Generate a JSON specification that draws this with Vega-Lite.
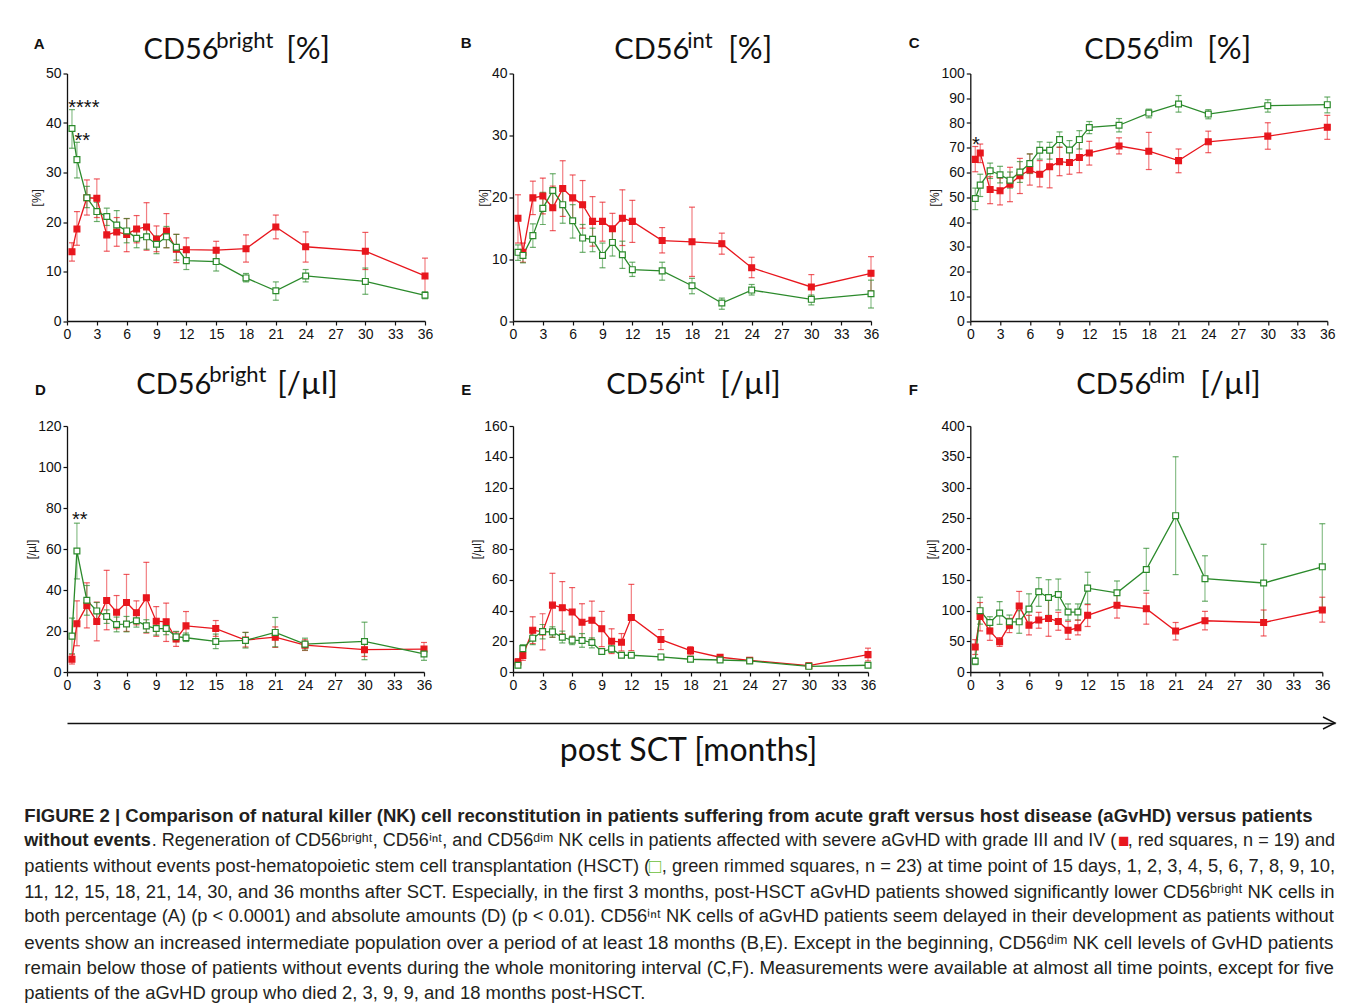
{
"$schema": "https://vega.github.io/schema/vega-lite/v6.json",
"background": "white",
"padding": {"left": 24, "top": 28.5, "right": 15, "bottom": 4},
"config": {
  "view": {"stroke": null},
  "font": "Liberation Sans",
  "axis": {"grid": false, "labelOverlap": false, "domainColor": "#111", "domainWidth": 1.3, "tickColor": "#111", "tickWidth": 1.2, "tickSize": 4, "labelFont": "Liberation Sans", "labelFontSize": 14, "labelColor": "#111", "labelPadding": 2, "titleFont": "Liberation Sans", "titleFontSize": 12, "titleFontWeight": "normal", "titleColor": "#222", "titlePadding": 2},
  "text": {"color": "#111"}
},
"datasets": {
"nk": [
{"panel":"A","group":"aGvHD","month":0.5,"value":14.0,"low":12.1,"high":15.8},
{"panel":"A","group":"aGvHD","month":1,"value":18.6,"low":15.3,"high":22.1},
{"panel":"A","group":"aGvHD","month":2,"value":24.9,"low":21.4,"high":28.5},
{"panel":"A","group":"aGvHD","month":3,"value":24.8,"low":20.9,"high":28.7},
{"panel":"A","group":"aGvHD","month":4,"value":17.4,"low":14.1,"high":20.6},
{"panel":"A","group":"aGvHD","month":5,"value":18.0,"low":15.1,"high":20.9},
{"panel":"A","group":"aGvHD","month":6,"value":17.5,"low":14.0,"high":20.7},
{"panel":"A","group":"aGvHD","month":7,"value":18.6,"low":15.8,"high":21.3},
{"panel":"A","group":"aGvHD","month":8,"value":19.0,"low":14.3,"high":23.9},
{"panel":"A","group":"aGvHD","month":9,"value":16.5,"low":14.0,"high":19.2},
{"panel":"A","group":"aGvHD","month":10,"value":18.2,"low":14.8,"high":21.7},
{"panel":"A","group":"aGvHD","month":11,"value":14.5,"low":11.8,"high":17.5},
{"panel":"A","group":"aGvHD","month":12,"value":14.4,"low":12.1,"high":16.8},
{"panel":"A","group":"aGvHD","month":15,"value":14.3,"low":12.3,"high":16.1},
{"panel":"A","group":"aGvHD","month":18,"value":14.6,"low":11.9,"high":17.4},
{"panel":"A","group":"aGvHD","month":21,"value":19.0,"low":16.6,"high":21.4},
{"panel":"A","group":"aGvHD","month":24,"value":15.0,"low":11.9,"high":18.0},
{"panel":"A","group":"aGvHD","month":30,"value":14.1,"low":10.4,"high":17.9},
{"panel":"A","group":"aGvHD","month":36,"value":9.1,"low":5.4,"high":12.7},
{"panel":"A","group":"no events","month":0.5,"value":38.9,"low":34.9,"high":42.7},
{"panel":"A","group":"no events","month":1,"value":32.6,"low":28.9,"high":36.1},
{"panel":"A","group":"no events","month":2,"value":24.9,"low":22.9,"high":27.2},
{"panel":"A","group":"no events","month":3,"value":22.1,"low":20.1,"high":24.0},
{"panel":"A","group":"no events","month":4,"value":21.1,"low":19.3,"high":22.8},
{"panel":"A","group":"no events","month":5,"value":19.4,"low":17.5,"high":22.3},
{"panel":"A","group":"no events","month":6,"value":18.2,"low":15.8,"high":20.7},
{"panel":"A","group":"no events","month":7,"value":16.7,"low":14.8,"high":18.4},
{"panel":"A","group":"no events","month":8,"value":17.0,"low":14.5,"high":19.5},
{"panel":"A","group":"no events","month":9,"value":15.5,"low":13.6,"high":17.2},
{"panel":"A","group":"no events","month":10,"value":17.0,"low":14.8,"high":19.1},
{"panel":"A","group":"no events","month":11,"value":14.9,"low":12.3,"high":17.5},
{"panel":"A","group":"no events","month":12,"value":12.2,"low":10.4,"high":14.0},
{"panel":"A","group":"no events","month":15,"value":12.0,"low":10.1,"high":14.1},
{"panel":"A","group":"no events","month":18,"value":8.7,"low":7.9,"high":9.6},
{"panel":"A","group":"no events","month":21,"value":6.1,"low":4.2,"high":7.9},
{"panel":"A","group":"no events","month":24,"value":9.1,"low":7.9,"high":10.4},
{"panel":"A","group":"no events","month":30,"value":8.0,"low":5.4,"high":10.7},
{"panel":"A","group":"no events","month":36,"value":5.2,"low":4.5,"high":5.9},
{"panel":"B","group":"aGvHD","month":0.5,"value":16.6,"low":12.6,"high":20.4},
{"panel":"B","group":"aGvHD","month":1,"value":11.1,"low":9.5,"high":12.6},
{"panel":"B","group":"aGvHD","month":2,"value":19.9,"low":17.2,"high":22.6},
{"panel":"B","group":"aGvHD","month":3,"value":20.2,"low":17.3,"high":23.1},
{"panel":"B","group":"aGvHD","month":4,"value":18.3,"low":14.6,"high":21.8},
{"panel":"B","group":"aGvHD","month":5,"value":21.4,"low":16.9,"high":25.9},
{"panel":"B","group":"aGvHD","month":6,"value":19.9,"low":16.2,"high":23.6},
{"panel":"B","group":"aGvHD","month":7,"value":18.8,"low":15.0,"high":22.7},
{"panel":"B","group":"aGvHD","month":8,"value":16.1,"low":12.1,"high":20.1},
{"panel":"B","group":"aGvHD","month":9,"value":16.1,"low":12.9,"high":19.2},
{"panel":"B","group":"aGvHD","month":10,"value":14.9,"low":12.4,"high":17.4},
{"panel":"B","group":"aGvHD","month":11,"value":16.6,"low":12.2,"high":21.2},
{"panel":"B","group":"aGvHD","month":12,"value":16.1,"low":12.7,"high":19.5},
{"panel":"B","group":"aGvHD","month":15,"value":13.0,"low":11.0,"high":15.1},
{"panel":"B","group":"aGvHD","month":18,"value":12.8,"low":7.2,"high":18.4},
{"panel":"B","group":"aGvHD","month":21,"value":12.5,"low":10.8,"high":14.2},
{"panel":"B","group":"aGvHD","month":24,"value":8.6,"low":7.0,"high":10.3},
{"panel":"B","group":"aGvHD","month":30,"value":5.5,"low":3.4,"high":7.5},
{"panel":"B","group":"aGvHD","month":36,"value":7.7,"low":4.9,"high":10.4},
{"panel":"B","group":"no events","month":0.5,"value":11.1,"low":9.8,"high":12.3},
{"panel":"B","group":"no events","month":1,"value":10.6,"low":9.4,"high":11.5},
{"panel":"B","group":"no events","month":2,"value":13.8,"low":11.9,"high":15.7},
{"panel":"B","group":"no events","month":3,"value":18.2,"low":15.6,"high":20.8},
{"panel":"B","group":"no events","month":4,"value":21.1,"low":18.2,"high":23.8},
{"panel":"B","group":"no events","month":5,"value":18.8,"low":15.8,"high":21.8},
{"panel":"B","group":"no events","month":6,"value":16.2,"low":13.4,"high":18.8},
{"panel":"B","group":"no events","month":7,"value":13.4,"low":11.1,"high":15.6},
{"panel":"B","group":"no events","month":8,"value":13.2,"low":11.2,"high":15.0},
{"panel":"B","group":"no events","month":9,"value":10.6,"low":8.6,"high":12.6},
{"panel":"B","group":"no events","month":10,"value":12.7,"low":10.5,"high":15.0},
{"panel":"B","group":"no events","month":11,"value":10.7,"low":8.5,"high":12.9},
{"panel":"B","group":"no events","month":12,"value":8.3,"low":7.2,"high":9.5},
{"panel":"B","group":"no events","month":15,"value":8.1,"low":6.6,"high":9.5},
{"panel":"B","group":"no events","month":18,"value":5.7,"low":4.4,"high":6.9},
{"panel":"B","group":"no events","month":21,"value":2.9,"low":1.9,"high":3.7},
{"panel":"B","group":"no events","month":24,"value":5.0,"low":4.2,"high":5.9},
{"panel":"B","group":"no events","month":30,"value":3.5,"low":2.6,"high":4.2},
{"panel":"B","group":"no events","month":36,"value":4.4,"low":2.1,"high":6.6},
{"panel":"C","group":"aGvHD","month":0.5,"value":65.3,"low":60.3,"high":70.5},
{"panel":"C","group":"aGvHD","month":1,"value":67.9,"low":64.0,"high":71.5},
{"panel":"C","group":"aGvHD","month":2,"value":53.1,"low":47.4,"high":58.3},
{"panel":"C","group":"aGvHD","month":3,"value":52.6,"low":46.9,"high":57.7},
{"panel":"C","group":"aGvHD","month":4,"value":55.3,"low":48.2,"high":62.1},
{"panel":"C","group":"aGvHD","month":5,"value":58.7,"low":51.5,"high":65.7},
{"panel":"C","group":"aGvHD","month":6,"value":61.0,"low":54.9,"high":67.5},
{"panel":"C","group":"aGvHD","month":7,"value":59.3,"low":54.2,"high":64.8},
{"panel":"C","group":"aGvHD","month":8,"value":62.3,"low":53.8,"high":69.9},
{"panel":"C","group":"aGvHD","month":9,"value":64.4,"low":58.7,"high":70.2},
{"panel":"C","group":"aGvHD","month":10,"value":64.0,"low":59.3,"high":68.8},
{"panel":"C","group":"aGvHD","month":11,"value":66.1,"low":59.9,"high":72.9},
{"panel":"C","group":"aGvHD","month":12,"value":67.9,"low":63.0,"high":72.6},
{"panel":"C","group":"aGvHD","month":15,"value":70.7,"low":67.5,"high":74.0},
{"panel":"C","group":"aGvHD","month":18,"value":68.6,"low":61.2,"high":76.2},
{"panel":"C","group":"aGvHD","month":21,"value":64.8,"low":59.9,"high":69.5},
{"panel":"C","group":"aGvHD","month":24,"value":72.4,"low":68.0,"high":76.7},
{"panel":"C","group":"aGvHD","month":30,"value":74.7,"low":69.4,"high":80.1},
{"panel":"C","group":"aGvHD","month":36,"value":78.3,"low":73.4,"high":83.1},
{"panel":"C","group":"no events","month":0.5,"value":49.5,"low":45.0,"high":53.7},
{"panel":"C","group":"no events","month":1,"value":54.9,"low":50.3,"high":59.3},
{"panel":"C","group":"no events","month":2,"value":60.7,"low":57.6,"high":63.8},
{"panel":"C","group":"no events","month":3,"value":59.1,"low":55.8,"high":62.5},
{"panel":"C","group":"no events","month":4,"value":56.9,"low":53.7,"high":60.2},
{"panel":"C","group":"no events","month":5,"value":60.2,"low":56.0,"high":64.4},
{"panel":"C","group":"no events","month":6,"value":63.6,"low":59.6,"high":67.5},
{"panel":"C","group":"no events","month":7,"value":69.0,"low":65.4,"high":72.4},
{"panel":"C","group":"no events","month":8,"value":69.0,"low":65.4,"high":72.2},
{"panel":"C","group":"no events","month":9,"value":73.3,"low":70.2,"high":76.4},
{"panel":"C","group":"no events","month":10,"value":69.1,"low":65.2,"high":72.9},
{"panel":"C","group":"no events","month":11,"value":73.3,"low":69.5,"high":76.9},
{"panel":"C","group":"no events","month":12,"value":78.2,"low":75.7,"high":80.6},
{"panel":"C","group":"no events","month":15,"value":79.1,"low":76.4,"high":81.8},
{"panel":"C","group":"no events","month":18,"value":84.0,"low":82.1,"high":85.6},
{"panel":"C","group":"no events","month":21,"value":87.7,"low":84.4,"high":91.1},
{"panel":"C","group":"no events","month":24,"value":83.6,"low":81.7,"high":85.4},
{"panel":"C","group":"no events","month":30,"value":87.0,"low":84.4,"high":89.4},
{"panel":"C","group":"no events","month":36,"value":87.4,"low":84.1,"high":90.5},
{"panel":"D","group":"aGvHD","month":0.5,"value":6.2,"low":3.9,"high":8.4},
{"panel":"D","group":"aGvHD","month":1,"value":23.5,"low":12.8,"high":34.7},
{"panel":"D","group":"aGvHD","month":2,"value":32.4,"low":21.5,"high":43.5},
{"panel":"D","group":"aGvHD","month":3,"value":24.6,"low":15.2,"high":34.1},
{"panel":"D","group":"aGvHD","month":4,"value":34.9,"low":20.6,"high":49.6},
{"panel":"D","group":"aGvHD","month":5,"value":29.2,"low":21.1,"high":37.3},
{"panel":"D","group":"aGvHD","month":6,"value":33.9,"low":19.8,"high":47.6},
{"panel":"D","group":"aGvHD","month":7,"value":28.9,"low":23.0,"high":34.7},
{"panel":"D","group":"aGvHD","month":8,"value":36.2,"low":19.0,"high":53.5},
{"panel":"D","group":"aGvHD","month":9,"value":24.8,"low":17.4,"high":31.9},
{"panel":"D","group":"aGvHD","month":10,"value":24.5,"low":14.9,"high":33.6},
{"panel":"D","group":"aGvHD","month":11,"value":16.1,"low":12.5,"high":19.5},
{"panel":"D","group":"aGvHD","month":12,"value":22.5,"low":15.4,"high":29.5},
{"panel":"D","group":"aGvHD","month":15,"value":21.2,"low":17.4,"high":25.1},
{"panel":"D","group":"aGvHD","month":18,"value":15.6,"low":12.2,"high":19.3},
{"panel":"D","group":"aGvHD","month":21,"value":17.0,"low":12.0,"high":22.0},
{"panel":"D","group":"aGvHD","month":24,"value":13.1,"low":10.5,"high":15.7},
{"panel":"D","group":"aGvHD","month":30,"value":10.9,"low":7.6,"high":14.1},
{"panel":"D","group":"aGvHD","month":36,"value":11.2,"low":7.9,"high":14.4},
{"panel":"D","group":"no events","month":0.5,"value":17.5,"low":8.9,"high":26.3},
{"panel":"D","group":"no events","month":1,"value":59.0,"low":45.4,"high":72.6},
{"panel":"D","group":"no events","month":2,"value":35.0,"low":27.7,"high":42.2},
{"panel":"D","group":"no events","month":3,"value":29.8,"low":25.6,"high":33.9},
{"panel":"D","group":"no events","month":4,"value":27.1,"low":23.7,"high":30.3},
{"panel":"D","group":"no events","month":5,"value":23.2,"low":19.6,"high":26.8},
{"panel":"D","group":"no events","month":6,"value":23.4,"low":19.6,"high":27.1},
{"panel":"D","group":"no events","month":7,"value":25.0,"low":21.9,"high":28.1},
{"panel":"D","group":"no events","month":8,"value":22.5,"low":19.3,"high":25.5},
{"panel":"D","group":"no events","month":9,"value":21.2,"low":18.0,"high":24.5},
{"panel":"D","group":"no events","month":10,"value":21.2,"low":18.2,"high":24.2},
{"panel":"D","group":"no events","month":11,"value":17.2,"low":14.8,"high":19.8},
{"panel":"D","group":"no events","month":12,"value":16.7,"low":14.9,"high":19.0},
{"panel":"D","group":"no events","month":15,"value":14.9,"low":11.4,"high":18.5},
{"panel":"D","group":"no events","month":18,"value":15.4,"low":11.7,"high":19.3},
{"panel":"D","group":"no events","month":21,"value":19.3,"low":12.3,"high":26.6},
{"panel":"D","group":"no events","month":24,"value":13.6,"low":10.7,"high":16.5},
{"panel":"D","group":"no events","month":30,"value":14.9,"low":6.0,"high":24.3},
{"panel":"D","group":"no events","month":36,"value":8.8,"low":5.7,"high":11.7},
{"panel":"E","group":"aGvHD","month":0.5,"value":6.5,"low":4.4,"high":8.7},
{"panel":"E","group":"aGvHD","month":1,"value":10.7,"low":7.6,"high":13.9},
{"panel":"E","group":"aGvHD","month":2,"value":27.2,"low":18.5,"high":35.9},
{"panel":"E","group":"aGvHD","month":3,"value":26.1,"low":14.4,"high":37.9},
{"panel":"E","group":"aGvHD","month":4,"value":43.5,"low":22.6,"high":64.2},
{"panel":"E","group":"aGvHD","month":5,"value":41.8,"low":24.8,"high":58.8},
{"panel":"E","group":"aGvHD","month":6,"value":39.0,"low":23.1,"high":54.9},
{"panel":"E","group":"aGvHD","month":7,"value":32.4,"low":20.5,"high":44.4},
{"panel":"E","group":"aGvHD","month":8,"value":33.7,"low":21.3,"high":46.1},
{"panel":"E","group":"aGvHD","month":9,"value":28.1,"low":16.5,"high":39.4},
{"panel":"E","group":"aGvHD","month":10,"value":20.0,"low":12.0,"high":28.1},
{"panel":"E","group":"aGvHD","month":11,"value":19.4,"low":13.7,"high":25.0},
{"panel":"E","group":"aGvHD","month":12,"value":35.5,"low":13.9,"high":57.0},
{"panel":"E","group":"aGvHD","month":15,"value":21.1,"low":14.6,"high":27.6},
{"panel":"E","group":"aGvHD","month":18,"value":13.9,"low":11.1,"high":16.5},
{"panel":"E","group":"aGvHD","month":21,"value":9.6,"low":8.3,"high":10.9},
{"panel":"E","group":"aGvHD","month":24,"value":7.6,"low":6.7,"high":8.5},
{"panel":"E","group":"aGvHD","month":30,"value":4.1,"low":2.8,"high":5.7},
{"panel":"E","group":"aGvHD","month":36,"value":11.3,"low":7.2,"high":15.5},
{"panel":"E","group":"no events","month":0.5,"value":4.4,"low":2.8,"high":5.7},
{"panel":"E","group":"no events","month":1,"value":15.2,"low":12.4,"high":17.8},
{"panel":"E","group":"no events","month":2,"value":22.0,"low":17.8,"high":26.1},
{"panel":"E","group":"no events","month":3,"value":26.3,"low":21.5,"high":30.9},
{"panel":"E","group":"no events","month":4,"value":26.1,"low":22.6,"high":29.4},
{"panel":"E","group":"no events","month":5,"value":22.6,"low":18.9,"high":26.6},
{"panel":"E","group":"no events","month":6,"value":20.7,"low":17.8,"high":23.3},
{"panel":"E","group":"no events","month":7,"value":20.5,"low":16.1,"high":25.0},
{"panel":"E","group":"no events","month":8,"value":19.2,"low":15.7,"high":22.2},
{"panel":"E","group":"no events","month":9,"value":13.3,"low":12.0,"high":14.6},
{"panel":"E","group":"no events","month":10,"value":15.0,"low":12.8,"high":17.0},
{"panel":"E","group":"no events","month":11,"value":10.9,"low":9.6,"high":12.4},
{"panel":"E","group":"no events","month":12,"value":10.9,"low":9.8,"high":12.0},
{"panel":"E","group":"no events","month":15,"value":9.8,"low":8.1,"high":11.3},
{"panel":"E","group":"no events","month":18,"value":8.3,"low":7.0,"high":9.6},
{"panel":"E","group":"no events","month":21,"value":7.8,"low":7.0,"high":8.9},
{"panel":"E","group":"no events","month":24,"value":7.2,"low":6.3,"high":8.1},
{"panel":"E","group":"no events","month":30,"value":3.7,"low":2.8,"high":4.6},
{"panel":"E","group":"no events","month":36,"value":4.4,"low":3.5,"high":5.2},
{"panel":"F","group":"aGvHD","month":0.5,"value":40.5,"low":28.5,"high":52.6},
{"panel":"F","group":"aGvHD","month":1,"value":90.4,"low":66.8,"high":113},
{"panel":"F","group":"aGvHD","month":2,"value":66.8,"low":51.5,"high":80.5},
{"panel":"F","group":"aGvHD","month":3,"value":49.3,"low":41.6,"high":55.9},
{"panel":"F","group":"aGvHD","month":4,"value":76.2,"low":64.1,"high":87.1},
{"panel":"F","group":"aGvHD","month":5,"value":107.4,"low":83.3,"high":131},
{"panel":"F","group":"aGvHD","month":6,"value":76.2,"low":60.3,"high":92.1},
{"panel":"F","group":"aGvHD","month":7,"value":84.4,"low":71.2,"high":97.0},
{"panel":"F","group":"aGvHD","month":8,"value":87.1,"low":58.1,"high":119},
{"panel":"F","group":"aGvHD","month":9,"value":82.2,"low":67.9,"high":97.0},
{"panel":"F","group":"aGvHD","month":10,"value":67.9,"low":53.2,"high":82.2},
{"panel":"F","group":"aGvHD","month":11,"value":71.8,"low":60.3,"high":84.4},
{"panel":"F","group":"aGvHD","month":12,"value":92.1,"low":74.0,"high":109.6},
{"panel":"F","group":"aGvHD","month":15,"value":108.5,"low":87.7,"high":129.9},
{"panel":"F","group":"aGvHD","month":18,"value":103.0,"low":77.8,"high":128.2},
{"panel":"F","group":"aGvHD","month":21,"value":66.8,"low":52.1,"high":80.5},
{"panel":"F","group":"aGvHD","month":24,"value":83.3,"low":68.5,"high":98.6},
{"panel":"F","group":"aGvHD","month":30,"value":80.5,"low":58.6,"high":100.8},
{"panel":"F","group":"aGvHD","month":36,"value":100.8,"low":81.1,"high":121.6},
{"panel":"F","group":"no events","month":0.5,"value":17.5,"low":12,"high":23},
{"panel":"F","group":"no events","month":1,"value":99.7,"low":77.8,"high":121.6},
{"panel":"F","group":"no events","month":2,"value":80.5,"low":71.2,"high":89.9},
{"panel":"F","group":"no events","month":3,"value":95.9,"low":77.3,"high":114.5},
{"panel":"F","group":"no events","month":4,"value":81.6,"low":70.7,"high":92.6},
{"panel":"F","group":"no events","month":5,"value":81.6,"low":63.0,"high":99.7},
{"panel":"F","group":"no events","month":6,"value":102.5,"low":77.8,"high":127.1},
{"panel":"F","group":"no events","month":7,"value":130.4,"low":106.8,"high":153.4},
{"panel":"F","group":"no events","month":8,"value":121.1,"low":92.1,"high":150.1},
{"panel":"F","group":"no events","month":9,"value":126.0,"low":100.8,"high":151.2},
{"panel":"F","group":"no events","month":10,"value":97.5,"low":84.4,"high":110.7},
{"panel":"F","group":"no events","month":11,"value":97.5,"low":84.4,"high":110.7},
{"panel":"F","group":"no events","month":12,"value":136.4,"low":110.7,"high":162.2},
{"panel":"F","group":"no events","month":15,"value":128.8,"low":109.6,"high":148},
{"panel":"F","group":"no events","month":18,"value":166.6,"low":132.6,"high":201.1},
{"panel":"F","group":"no events","month":21,"value":254.2,"low":158.4,"high":350},
{"panel":"F","group":"no events","month":24,"value":151.8,"low":115.1,"high":189},
{"panel":"F","group":"no events","month":30,"value":144.7,"low":81.1,"high":207.7},
{"panel":"F","group":"no events","month":36,"value":171.0,"low":99.7,"high":241.1}
],
"caption": [
{"line":1,"part":"bold","text":"FIGURE 2 | Comparison of natural killer (NK) cell reconstitution in patients suffering from acute graft versus host disease (aGvHD) versus patients"},
{"line":2,"part":"bold","text":"without events"},
{"line":2,"part":"prefix","text":". Regeneration of CD56ᵇʳⁱᵍʰᵗ, CD56ⁱⁿᵗ, and CD56ᵈⁱᵐ NK cells in patients affected with severe aGvHD with grade III and IV ("},
{"line":2,"part":"key","text":"■"},
{"line":2,"part":"suffix","text":", red squares, n = 19) and"},
{"line":3,"part":"prefix","text":"patients without events post-hematopoietic stem cell transplantation (HSCT) ("},
{"line":3,"part":"key","text":"□"},
{"line":3,"part":"suffix","text":", green rimmed squares, n = 23) at time point of 15 days, 1, 2, 3, 4, 5, 6, 7, 8, 9, 10,"},
{"line":4,"part":"plain","text":"11, 12, 15, 18, 21, 14, 30, and 36 months after SCT. Especially, in the first 3 months, post-HSCT aGvHD patients showed significantly lower CD56ᵇʳⁱᵍʰᵗ NK cells in"},
{"line":5,"part":"plain","text":"both percentage (A) (p < 0.0001) and absolute amounts (D) (p < 0.01). CD56ⁱⁿᵗ NK cells of aGvHD patients seem delayed in their development as patients without"},
{"line":6,"part":"plain","text":"events show an increased intermediate population over a period of at least 18 months (B,E). Except in the beginning, CD56ᵈⁱᵐ NK cell levels of GvHD patients"},
{"line":7,"part":"plain","text":"remain below those of patients without events during the whole monitoring interval (C,F). Measurements were available at almost all time points, except for five"},
{"line":8,"part":"plain","text":"patients of the aGvHD group who died 2, 3, 9, 9, and 18 months post-HSCT."}
]
},
"bounds": "flush",
"spacing": 647.5,
"vconcat": [
{
"bounds": "flush",
"spacing": 352.5,
"vconcat": [
{
"bounds": "flush",
"spacing": 903.3,
"hconcat": [
{
"bounds": "flush",
"spacing": 88,
"hconcat": [
{
"width": 358, "height": 247.5,
"layer": [
{
"data": {"name": "nk"},
"transform": [{"filter": "datum.panel === 'A'"}],
"encoding": {"x": {"field": "month", "type": "quantitative", "scale": {"domain": [0, 36], "nice": false, "zero": false}, "axis": {"values": [0,3,6,9,12,15,18,21,24,27,30,33,36], "tickCount": 40, "title": null, "labelOverlap": false, "labelFlush": false}}},
"layer": [
{"mark": {"type": "rule", "strokeWidth": 1.2, "opacity": 0.55}, "encoding": {"y": {"field": "low", "type": "quantitative", "scale": {"domain": [0, 50], "nice": false, "zero": false}, "axis": {"values": [0,10,20,30,40,50], "tickCount": 40, "title": "[%]", "minExtent": 22, "maxExtent": 22, "labelOverlap": false, "labelFlush": false}}, "y2": {"field": "high"}, "color": {"field": "group", "type": "nominal", "scale": {"domain": ["aGvHD","no events"], "range": ["#e8161d","#2b8a2b"]}, "legend": null}}},
{"mark": {"type": "tick", "orient": "horizontal", "size": 6, "thickness": 1.2, "opacity": 0.7}, "encoding": {"y": {"field": "low", "type": "quantitative"}, "color": {"field": "group", "type": "nominal", "legend": null}}},
{"mark": {"type": "tick", "orient": "horizontal", "size": 6, "thickness": 1.2, "opacity": 0.7}, "encoding": {"y": {"field": "high", "type": "quantitative"}, "color": {"field": "group", "type": "nominal", "legend": null}}},
{"mark": {"type": "line", "strokeWidth": 1.3}, "encoding": {"y": {"field": "value", "type": "quantitative"}, "color": {"field": "group", "type": "nominal", "legend": null}}},
{"mark": {"type": "point", "shape": "square", "size": 34, "filled": true, "strokeWidth": 1.2, "opacity": 1}, "encoding": {"y": {"field": "value", "type": "quantitative"}, "fill": {"field": "group", "type": "nominal", "scale": {"domain": ["aGvHD","no events"], "range": ["#e8161d","#ffffff"]}, "legend": null}, "stroke": {"field": "group", "type": "nominal", "scale": {"domain": ["aGvHD","no events"], "range": ["#e8161d","#2b8a2b"]}, "legend": null}}}
]
},
{"data": {"values": [{"label": "CD56"}]}, "mark": {"type": "text", "font": "Lato", "fontSize": 29, "align": "left", "baseline": "alphabetic"}, "encoding": {"x": {"datum": 7.70, "type": "quantitative"}, "y": {"datum": 52.87, "type": "quantitative"}, "text": {"field": "label"}}},
{"data": {"values": [{"label": "bright"}]}, "mark": {"type": "text", "font": "Lato", "fontSize": 22, "align": "left", "baseline": "alphabetic"}, "encoding": {"x": {"datum": 15.01, "type": "quantitative"}, "y": {"datum": 55.25, "type": "quantitative"}, "text": {"field": "label"}}},
{"data": {"values": [{"label": "[%]"}]}, "mark": {"type": "text", "font": "Lato", "fontSize": 31, "align": "left", "baseline": "alphabetic"}, "encoding": {"x": {"datum": 22.05, "type": "quantitative"}, "y": {"datum": 52.87, "type": "quantitative"}, "text": {"field": "label"}}},
{"data": {"values": [{"label": "A"}]}, "mark": {"type": "text", "fontSize": 15, "fontWeight": "bold", "align": "center", "baseline": "middle"}, "encoding": {"x": {"datum": -2.79, "type": "quantitative"}, "y": {"datum": 55.96, "type": "quantitative"}, "text": {"field": "label"}}},
{"data": {"values": [{"label": "****"}]}, "mark": {"type": "text", "fontSize": 20, "align": "left", "baseline": "alphabetic"}, "encoding": {"x": {"datum": 0.13, "type": "quantitative"}, "y": {"datum": 41.9, "type": "quantitative"}, "text": {"field": "label"}}},
{"data": {"values": [{"label": "**"}]}, "mark": {"type": "text", "fontSize": 20, "align": "left", "baseline": "alphabetic"}, "encoding": {"x": {"datum": 0.76, "type": "quantitative"}, "y": {"datum": 35.15, "type": "quantitative"}, "text": {"field": "label"}}}
]
},
{
"width": 358, "height": 247.5,
"layer": [
{
"data": {"name": "nk"},
"transform": [{"filter": "datum.panel === 'B'"}],
"encoding": {"x": {"field": "month", "type": "quantitative", "scale": {"domain": [0, 36], "nice": false, "zero": false}, "axis": {"values": [0,3,6,9,12,15,18,21,24,27,30,33,36], "tickCount": 40, "title": null, "labelOverlap": false, "labelFlush": false}}},
"layer": [
{"mark": {"type": "rule", "strokeWidth": 1.2, "opacity": 0.55}, "encoding": {"y": {"field": "low", "type": "quantitative", "scale": {"domain": [0, 40], "nice": false, "zero": false}, "axis": {"values": [0,10,20,30,40], "tickCount": 40, "title": "[%]", "minExtent": 21, "maxExtent": 21, "labelOverlap": false, "labelFlush": false}}, "y2": {"field": "high"}, "color": {"field": "group", "type": "nominal", "scale": {"domain": ["aGvHD","no events"], "range": ["#e8161d","#2b8a2b"]}, "legend": null}}},
{"mark": {"type": "tick", "orient": "horizontal", "size": 6, "thickness": 1.2, "opacity": 0.7}, "encoding": {"y": {"field": "low", "type": "quantitative"}, "color": {"field": "group", "type": "nominal", "legend": null}}},
{"mark": {"type": "tick", "orient": "horizontal", "size": 6, "thickness": 1.2, "opacity": 0.7}, "encoding": {"y": {"field": "high", "type": "quantitative"}, "color": {"field": "group", "type": "nominal", "legend": null}}},
{"mark": {"type": "line", "strokeWidth": 1.3}, "encoding": {"y": {"field": "value", "type": "quantitative"}, "color": {"field": "group", "type": "nominal", "legend": null}}},
{"mark": {"type": "point", "shape": "square", "size": 34, "filled": true, "strokeWidth": 1.2, "opacity": 1}, "encoding": {"y": {"field": "value", "type": "quantitative"}, "fill": {"field": "group", "type": "nominal", "scale": {"domain": ["aGvHD","no events"], "range": ["#e8161d","#ffffff"]}, "legend": null}, "stroke": {"field": "group", "type": "nominal", "scale": {"domain": ["aGvHD","no events"], "range": ["#e8161d","#2b8a2b"]}, "legend": null}}}
]
},
{"data": {"values": [{"label": "CD56"}]}, "mark": {"type": "text", "font": "Lato", "fontSize": 29, "align": "left", "baseline": "alphabetic"}, "encoding": {"x": {"datum": 10.19, "type": "quantitative"}, "y": {"datum": 42.29, "type": "quantitative"}, "text": {"field": "label"}}},
{"data": {"values": [{"label": "int"}]}, "mark": {"type": "text", "font": "Lato", "fontSize": 22, "align": "left", "baseline": "alphabetic"}, "encoding": {"x": {"datum": 17.53, "type": "quantitative"}, "y": {"datum": 44.2, "type": "quantitative"}, "text": {"field": "label"}}},
{"data": {"values": [{"label": "[%]"}]}, "mark": {"type": "text", "font": "Lato", "fontSize": 31, "align": "left", "baseline": "alphabetic"}, "encoding": {"x": {"datum": 21.65, "type": "quantitative"}, "y": {"datum": 42.29, "type": "quantitative"}, "text": {"field": "label"}}},
{"data": {"values": [{"label": "B"}]}, "mark": {"type": "text", "fontSize": 15, "fontWeight": "bold", "align": "center", "baseline": "middle"}, "encoding": {"x": {"datum": -4.7, "type": "quantitative"}, "y": {"datum": 44.93, "type": "quantitative"}, "text": {"field": "label"}}}
]
}
]
},
{
"width": 357, "height": 247.5,
"layer": [
{
"data": {"name": "nk"},
"transform": [{"filter": "datum.panel === 'C'"}],
"encoding": {"x": {"field": "month", "type": "quantitative", "scale": {"domain": [0, 36], "nice": false, "zero": false}, "axis": {"values": [0,3,6,9,12,15,18,21,24,27,30,33,36], "tickCount": 40, "title": null, "labelOverlap": false, "labelFlush": false}}},
"layer": [
{"mark": {"type": "rule", "strokeWidth": 1.2, "opacity": 0.55}, "encoding": {"y": {"field": "low", "type": "quantitative", "scale": {"domain": [0, 100], "nice": false, "zero": false}, "axis": {"values": [0,10,20,30,40,50,60,70,80,90,100], "tickCount": 40, "title": "[%]", "minExtent": 27, "maxExtent": 27, "labelOverlap": false, "labelFlush": false}}, "y2": {"field": "high"}, "color": {"field": "group", "type": "nominal", "scale": {"domain": ["aGvHD","no events"], "range": ["#e8161d","#2b8a2b"]}, "legend": null}}},
{"mark": {"type": "tick", "orient": "horizontal", "size": 6, "thickness": 1.2, "opacity": 0.7}, "encoding": {"y": {"field": "low", "type": "quantitative"}, "color": {"field": "group", "type": "nominal", "legend": null}}},
{"mark": {"type": "tick", "orient": "horizontal", "size": 6, "thickness": 1.2, "opacity": 0.7}, "encoding": {"y": {"field": "high", "type": "quantitative"}, "color": {"field": "group", "type": "nominal", "legend": null}}},
{"mark": {"type": "line", "strokeWidth": 1.3}, "encoding": {"y": {"field": "value", "type": "quantitative"}, "color": {"field": "group", "type": "nominal", "legend": null}}},
{"mark": {"type": "point", "shape": "square", "size": 34, "filled": true, "strokeWidth": 1.2, "opacity": 1}, "encoding": {"y": {"field": "value", "type": "quantitative"}, "fill": {"field": "group", "type": "nominal", "scale": {"domain": ["aGvHD","no events"], "range": ["#e8161d","#ffffff"]}, "legend": null}, "stroke": {"field": "group", "type": "nominal", "scale": {"domain": ["aGvHD","no events"], "range": ["#e8161d","#2b8a2b"]}, "legend": null}}}
]
},
{"data": {"values": [{"label": "CD56"}]}, "mark": {"type": "text", "font": "Lato", "fontSize": 29, "align": "left", "baseline": "alphabetic"}, "encoding": {"x": {"datum": 11.5, "type": "quantitative"}, "y": {"datum": 105.74, "type": "quantitative"}, "text": {"field": "label"}}},
{"data": {"values": [{"label": "dim"}]}, "mark": {"type": "text", "font": "Lato", "fontSize": 22, "align": "left", "baseline": "alphabetic"}, "encoding": {"x": {"datum": 18.86, "type": "quantitative"}, "y": {"datum": 110.51, "type": "quantitative"}, "text": {"field": "label"}}},
{"data": {"values": [{"label": "[%]"}]}, "mark": {"type": "text", "font": "Lato", "fontSize": 31, "align": "left", "baseline": "alphabetic"}, "encoding": {"x": {"datum": 23.9, "type": "quantitative"}, "y": {"datum": 105.74, "type": "quantitative"}, "text": {"field": "label"}}},
{"data": {"values": [{"label": "C"}]}, "mark": {"type": "text", "fontSize": 15, "fontWeight": "bold", "align": "center", "baseline": "middle"}, "encoding": {"x": {"datum": -5.65, "type": "quantitative"}, "y": {"datum": 112.3, "type": "quantitative"}, "text": {"field": "label"}}},
{"data": {"values": [{"label": "*"}]}, "mark": {"type": "text", "fontSize": 20, "align": "left", "baseline": "alphabetic"}, "encoding": {"x": {"datum": 0.17, "type": "quantitative"}, "y": {"datum": 68.7, "type": "quantitative"}, "text": {"field": "label"}}}
]
}
]
},
{
"bounds": "flush",
"spacing": 903.3,
"hconcat": [
{
"bounds": "flush",
"spacing": 89,
"hconcat": [
{
"width": 357, "height": 246,
"layer": [
{
"data": {"name": "nk"},
"transform": [{"filter": "datum.panel === 'D'"}],
"encoding": {"x": {"field": "month", "type": "quantitative", "scale": {"domain": [0, 36], "nice": false, "zero": false}, "axis": {"values": [0,3,6,9,12,15,18,21,24,27,30,33,36], "tickCount": 40, "title": null, "labelOverlap": false, "labelFlush": false}}},
"layer": [
{"mark": {"type": "rule", "strokeWidth": 1.2, "opacity": 0.55}, "encoding": {"y": {"field": "low", "type": "quantitative", "scale": {"domain": [0, 120], "nice": false, "zero": false}, "axis": {"values": [0,20,40,60,80,100,120], "tickCount": 40, "title": "[/µl]", "minExtent": 27, "maxExtent": 27, "labelOverlap": false, "labelFlush": false}}, "y2": {"field": "high"}, "color": {"field": "group", "type": "nominal", "scale": {"domain": ["aGvHD","no events"], "range": ["#e8161d","#2b8a2b"]}, "legend": null}}},
{"mark": {"type": "tick", "orient": "horizontal", "size": 6, "thickness": 1.2, "opacity": 0.7}, "encoding": {"y": {"field": "low", "type": "quantitative"}, "color": {"field": "group", "type": "nominal", "legend": null}}},
{"mark": {"type": "tick", "orient": "horizontal", "size": 6, "thickness": 1.2, "opacity": 0.7}, "encoding": {"y": {"field": "high", "type": "quantitative"}, "color": {"field": "group", "type": "nominal", "legend": null}}},
{"mark": {"type": "line", "strokeWidth": 1.3}, "encoding": {"y": {"field": "value", "type": "quantitative"}, "color": {"field": "group", "type": "nominal", "legend": null}}},
{"mark": {"type": "point", "shape": "square", "size": 34, "filled": true, "strokeWidth": 1.2, "opacity": 1}, "encoding": {"y": {"field": "value", "type": "quantitative"}, "fill": {"field": "group", "type": "nominal", "scale": {"domain": ["aGvHD","no events"], "range": ["#e8161d","#ffffff"]}, "legend": null}, "stroke": {"field": "group", "type": "nominal", "scale": {"domain": ["aGvHD","no events"], "range": ["#e8161d","#2b8a2b"]}, "legend": null}}}
]
},
{"data": {"values": [{"label": "CD56"}]}, "mark": {"type": "text", "font": "Lato", "fontSize": 29, "align": "left", "baseline": "alphabetic"}, "encoding": {"x": {"datum": 6.99, "type": "quantitative"}, "y": {"datum": 135.46, "type": "quantitative"}, "text": {"field": "label"}}},
{"data": {"values": [{"label": "bright"}]}, "mark": {"type": "text", "font": "Lato", "fontSize": 22, "align": "left", "baseline": "alphabetic"}, "encoding": {"x": {"datum": 14.35, "type": "quantitative"}, "y": {"datum": 141.22, "type": "quantitative"}, "text": {"field": "label"}}},
{"data": {"values": [{"label": "[/µl]"}]}, "mark": {"type": "text", "font": "Lato", "fontSize": 31, "align": "left", "baseline": "alphabetic"}, "encoding": {"x": {"datum": 21.21, "type": "quantitative"}, "y": {"datum": 135.46, "type": "quantitative"}, "text": {"field": "label"}}},
{"data": {"values": [{"label": "D"}]}, "mark": {"type": "text", "fontSize": 15, "fontWeight": "bold", "align": "center", "baseline": "middle"}, "encoding": {"x": {"datum": -2.69, "type": "quantitative"}, "y": {"datum": 137.6, "type": "quantitative"}, "text": {"field": "label"}}},
{"data": {"values": [{"label": "**"}]}, "mark": {"type": "text", "fontSize": 20, "align": "left", "baseline": "alphabetic"}, "encoding": {"x": {"datum": 0.5, "type": "quantitative"}, "y": {"datum": 71.0, "type": "quantitative"}, "text": {"field": "label"}}}
]
},
{
"width": 355, "height": 246,
"layer": [
{
"data": {"name": "nk"},
"transform": [{"filter": "datum.panel === 'E'"}],
"encoding": {"x": {"field": "month", "type": "quantitative", "scale": {"domain": [0, 36], "nice": false, "zero": false}, "axis": {"values": [0,3,6,9,12,15,18,21,24,27,30,33,36], "tickCount": 40, "title": null, "labelOverlap": false, "labelFlush": false}}},
"layer": [
{"mark": {"type": "rule", "strokeWidth": 1.2, "opacity": 0.55}, "encoding": {"y": {"field": "low", "type": "quantitative", "scale": {"domain": [0, 160], "nice": false, "zero": false}, "axis": {"values": [0,20,40,60,80,100,120,140,160], "tickCount": 40, "title": "[/µl]", "minExtent": 28, "maxExtent": 28, "labelOverlap": false, "labelFlush": false}}, "y2": {"field": "high"}, "color": {"field": "group", "type": "nominal", "scale": {"domain": ["aGvHD","no events"], "range": ["#e8161d","#2b8a2b"]}, "legend": null}}},
{"mark": {"type": "tick", "orient": "horizontal", "size": 6, "thickness": 1.2, "opacity": 0.7}, "encoding": {"y": {"field": "low", "type": "quantitative"}, "color": {"field": "group", "type": "nominal", "legend": null}}},
{"mark": {"type": "tick", "orient": "horizontal", "size": 6, "thickness": 1.2, "opacity": 0.7}, "encoding": {"y": {"field": "high", "type": "quantitative"}, "color": {"field": "group", "type": "nominal", "legend": null}}},
{"mark": {"type": "line", "strokeWidth": 1.3}, "encoding": {"y": {"field": "value", "type": "quantitative"}, "color": {"field": "group", "type": "nominal", "legend": null}}},
{"mark": {"type": "point", "shape": "square", "size": 34, "filled": true, "strokeWidth": 1.2, "opacity": 1}, "encoding": {"y": {"field": "value", "type": "quantitative"}, "fill": {"field": "group", "type": "nominal", "scale": {"domain": ["aGvHD","no events"], "range": ["#e8161d","#ffffff"]}, "legend": null}, "stroke": {"field": "group", "type": "nominal", "scale": {"domain": ["aGvHD","no events"], "range": ["#e8161d","#2b8a2b"]}, "legend": null}}}
]
},
{"data": {"values": [{"label": "CD56"}]}, "mark": {"type": "text", "font": "Lato", "fontSize": 29, "align": "left", "baseline": "alphabetic"}, "encoding": {"x": {"datum": 9.46, "type": "quantitative"}, "y": {"datum": 180.62, "type": "quantitative"}, "text": {"field": "label"}}},
{"data": {"values": [{"label": "int"}]}, "mark": {"type": "text", "font": "Lato", "fontSize": 22, "align": "left", "baseline": "alphabetic"}, "encoding": {"x": {"datum": 16.86, "type": "quantitative"}, "y": {"datum": 188.29, "type": "quantitative"}, "text": {"field": "label"}}},
{"data": {"values": [{"label": "[/µl]"}]}, "mark": {"type": "text", "font": "Lato", "fontSize": 31, "align": "left", "baseline": "alphabetic"}, "encoding": {"x": {"datum": 21.02, "type": "quantitative"}, "y": {"datum": 180.62, "type": "quantitative"}, "text": {"field": "label"}}},
{"data": {"values": [{"label": "E"}]}, "mark": {"type": "text", "fontSize": 15, "fontWeight": "bold", "align": "center", "baseline": "middle"}, "encoding": {"x": {"datum": -4.74, "type": "quantitative"}, "y": {"datum": 183.4, "type": "quantitative"}, "text": {"field": "label"}}}
]
}
]
},
{
"width": 352, "height": 246,
"layer": [
{
"data": {"name": "nk"},
"transform": [{"filter": "datum.panel === 'F'"}],
"encoding": {"x": {"field": "month", "type": "quantitative", "scale": {"domain": [0, 36], "nice": false, "zero": false}, "axis": {"values": [0,3,6,9,12,15,18,21,24,27,30,33,36], "tickCount": 40, "title": null, "labelOverlap": false, "labelFlush": false}}},
"layer": [
{"mark": {"type": "rule", "strokeWidth": 1.2, "opacity": 0.55}, "encoding": {"y": {"field": "low", "type": "quantitative", "scale": {"domain": [0, 400], "nice": false, "zero": false}, "axis": {"values": [0,50,100,150,200,250,300,350,400], "tickCount": 40, "title": "[/µl]", "minExtent": 30, "maxExtent": 30, "labelOverlap": false, "labelFlush": false}}, "y2": {"field": "high"}, "color": {"field": "group", "type": "nominal", "scale": {"domain": ["aGvHD","no events"], "range": ["#e8161d","#2b8a2b"]}, "legend": null}}},
{"mark": {"type": "tick", "orient": "horizontal", "size": 6, "thickness": 1.2, "opacity": 0.7}, "encoding": {"y": {"field": "low", "type": "quantitative"}, "color": {"field": "group", "type": "nominal", "legend": null}}},
{"mark": {"type": "tick", "orient": "horizontal", "size": 6, "thickness": 1.2, "opacity": 0.7}, "encoding": {"y": {"field": "high", "type": "quantitative"}, "color": {"field": "group", "type": "nominal", "legend": null}}},
{"mark": {"type": "line", "strokeWidth": 1.3}, "encoding": {"y": {"field": "value", "type": "quantitative"}, "color": {"field": "group", "type": "nominal", "legend": null}}},
{"mark": {"type": "point", "shape": "square", "size": 34, "filled": true, "strokeWidth": 1.2, "opacity": 1}, "encoding": {"y": {"field": "value", "type": "quantitative"}, "fill": {"field": "group", "type": "nominal", "scale": {"domain": ["aGvHD","no events"], "range": ["#e8161d","#ffffff"]}, "legend": null}, "stroke": {"field": "group", "type": "nominal", "scale": {"domain": ["aGvHD","no events"], "range": ["#e8161d","#2b8a2b"]}, "legend": null}}}
]
},
{"data": {"values": [{"label": "CD56"}]}, "mark": {"type": "text", "font": "Lato", "fontSize": 29, "align": "left", "baseline": "alphabetic"}, "encoding": {"x": {"datum": 10.84, "type": "quantitative"}, "y": {"datum": 451.54, "type": "quantitative"}, "text": {"field": "label"}}},
{"data": {"values": [{"label": "dim"}]}, "mark": {"type": "text", "font": "Lato", "fontSize": 22, "align": "left", "baseline": "alphabetic"}, "encoding": {"x": {"datum": 18.31, "type": "quantitative"}, "y": {"datum": 470.73, "type": "quantitative"}, "text": {"field": "label"}}},
{"data": {"values": [{"label": "[/µl]"}]}, "mark": {"type": "text", "font": "Lato", "fontSize": 31, "align": "left", "baseline": "alphabetic"}, "encoding": {"x": {"datum": 23.52, "type": "quantitative"}, "y": {"datum": 451.54, "type": "quantitative"}, "text": {"field": "label"}}},
{"data": {"values": [{"label": "F"}]}, "mark": {"type": "text", "fontSize": 15, "fontWeight": "bold", "align": "center", "baseline": "middle"}, "encoding": {"x": {"datum": -5.83, "type": "quantitative"}, "y": {"datum": 458.5, "type": "quantitative"}, "text": {"field": "label"}}}
]
}
]
}
]
},
{
"bounds": "flush",
"spacing": 80.35,
"vconcat": [
{
"width": 1268, "height": 2,
"data": {"values": [{"label": "arrow"}]},
"mark": {"type": "point", "shape": "M -1.2 -0.6 L 0 0 L -1.2 0.6", "filled": false, "size": 400, "strokeWidth": 1.4, "color": "#111", "opacity": 1},
"encoding": {
"x": {"datum": 1, "type": "quantitative", "scale": {"domain": [0, 1], "nice": false, "zero": false}, "axis": {"title": "post SCT [months]", "labels": false, "ticks": false, "domain": true, "domainWidth": 1.4, "titleFont": "Lato", "titleFontSize": 32, "titleColor": "#111", "titlePadding": 12, "titleX": 621, "titleFontWeight": "normal"}},
"y": {"datum": 0, "type": "quantitative", "scale": {"domain": [0, 1], "nice": false}, "axis": null}
}
},
{
"width": 1268, "height": 202.4,
"data": {"name": "caption"},
"encoding": {
"x": {"datum": 0, "type": "quantitative", "scale": {"domain": [0, 1], "nice": false, "zero": false}, "axis": null},
"y": {"field": "line", "type": "quantitative", "scale": {"domain": [8.5, 0.5], "nice": false, "zero": false}, "axis": null},
"text": {"field": "text"}
},
"layer": [
{"transform": [{"filter": "datum.line === 1"}], "mark": {"type": "text", "align": "left", "baseline": "middle", "dx": -42.7, "fontSize": 18.56, "fontWeight": "bold", "color": "#231f20"}},
{"transform": [{"filter": "datum.line === 2 && datum.part === 'bold'"}], "mark": {"type": "text", "align": "left", "baseline": "middle", "dx": -42.7, "fontSize": 18.07, "fontWeight": "bold", "color": "#231f20"}},
{"transform": [{"filter": "datum.line === 2 && datum.part === 'prefix'"}], "mark": {"type": "text", "align": "left", "baseline": "middle", "dx": 84.8, "fontSize": 18.0, "color": "#231f20"}},
{"transform": [{"filter": "datum.line === 2 && datum.part === 'key'"}], "mark": {"type": "text", "align": "right", "baseline": "middle", "dx": -205.5, "fontSize": 19, "color": "#e8161d"}, "encoding": {"x": {"datum": 1, "type": "quantitative"}}},
{"transform": [{"filter": "datum.line === 2 && datum.part === 'suffix'"}], "mark": {"type": "text", "align": "right", "baseline": "middle", "fontSize": 18.07, "color": "#231f20"}, "encoding": {"x": {"datum": 1, "type": "quantitative"}}},
{"transform": [{"filter": "datum.line === 3 && datum.part === 'prefix'"}], "mark": {"type": "text", "align": "left", "baseline": "middle", "dx": -42.7, "fontSize": 18.3, "color": "#231f20"}},
{"transform": [{"filter": "datum.line === 3 && datum.part === 'key'"}], "mark": {"type": "text", "align": "right", "baseline": "middle", "dx": -673.9, "fontSize": 20, "color": "#6cbf3a"}, "encoding": {"x": {"datum": 1, "type": "quantitative"}}},
{"transform": [{"filter": "datum.line === 3 && datum.part === 'suffix'"}], "mark": {"type": "text", "align": "right", "baseline": "middle", "fontSize": 18.3, "color": "#231f20"}, "encoding": {"x": {"datum": 1, "type": "quantitative"}}},
{"transform": [{"filter": "datum.line === 4"}], "mark": {"type": "text", "align": "left", "baseline": "middle", "dx": -42.7, "fontSize": 18.41, "color": "#231f20"}},
{"transform": [{"filter": "datum.line === 5"}], "mark": {"type": "text", "align": "left", "baseline": "middle", "dx": -42.7, "fontSize": 18.32, "color": "#231f20"}},
{"transform": [{"filter": "datum.line === 6"}], "mark": {"type": "text", "align": "left", "baseline": "middle", "dx": -42.7, "fontSize": 18.76, "color": "#231f20"}},
{"transform": [{"filter": "datum.line === 7"}], "mark": {"type": "text", "align": "left", "baseline": "middle", "dx": -42.7, "fontSize": 18.66, "color": "#231f20"}},
{"transform": [{"filter": "datum.line === 8"}], "mark": {"type": "text", "align": "left", "baseline": "middle", "dx": -42.7, "fontSize": 18.44, "color": "#231f20"}}
]
}
]
}
]
}
